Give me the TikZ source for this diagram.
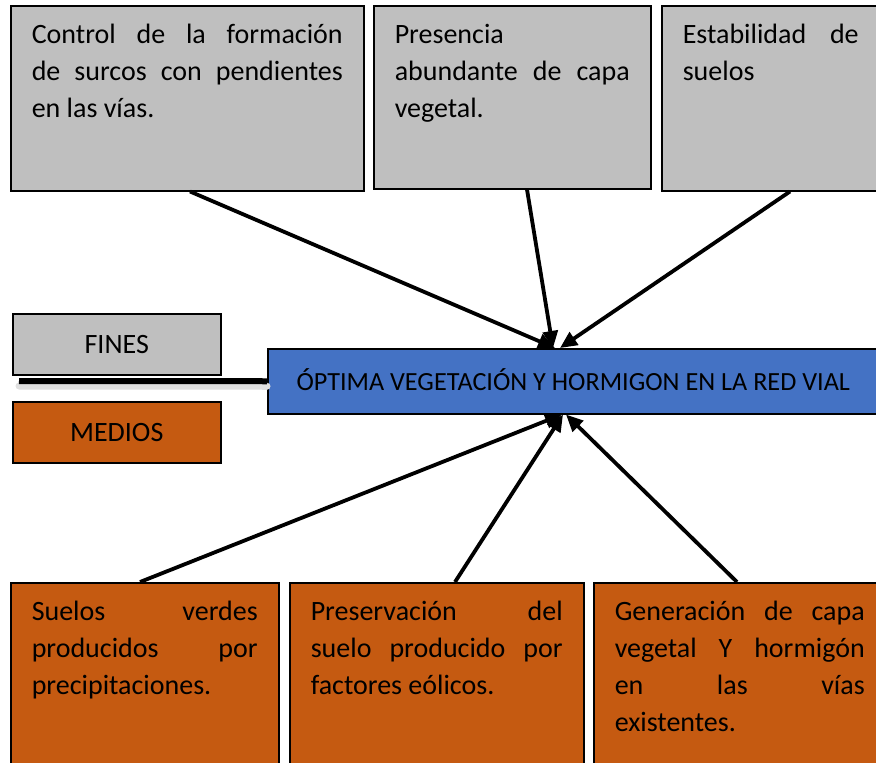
\documentclass[tikz,border=0pt]{standalone}
\usepackage{fontspec}
\setmainfont{Carlito}
\usepackage{tikz}
\usetikzlibrary{arrows.meta,positioning}

\definecolor{finGray}{HTML}{BFBFBF}
\definecolor{medOrange}{HTML}{C55A11}
\definecolor{optBlue}{HTML}{4472C4}

\begin{document}
\begin{tikzpicture}[
    x=1pt, y=-1pt,
    box/.style={rectangle, draw, line width=1.5pt, anchor=north west,
                inner xsep=21pt, inner ysep=0pt, align=justify,
                text height=38pt, font=\fontsize{28}{37}\selectfont},
    fin/.style={box, fill=finGray},
    med/.style={box, fill=medOrange},
    tag/.style={rectangle, draw, line width=1.5pt, anchor=north west,
                minimum width=208pt, minimum height=61pt,
                font=\fontsize{28}{34}\selectfont},
    arrow/.style={-{Triangle[length=17pt,width=15pt]}, line width=3.8pt}
  ]
    \useasboundingbox (0,0) rectangle (876,763);
    \clip (0,0) rectangle (876,763);

    % fines
    \node[fin, text width=311pt, text depth=147pt] (fin1) at (10,5)
      {Control de la formación\linebreak de surcos con pendientes\linebreak en las vías.};
    \node[fin, text width=235pt, text depth=145pt] (fin2) at (373,5)
      {Presencia\linebreak abundante de capa\linebreak vegetal.};
    \node[fin, text width=176pt, text depth=147pt] (fin3) at (661,5)
      {Estabilidad de\linebreak suelos};

    % centro
    \node[tag, fill=finGray] (fines) at (12,313) {FINES};
    \node[tag, fill=medOrange] (medios) at (12,401) {MEDIOS};
    \node[rectangle, draw, line width=1.5pt, fill=optBlue, anchor=north west,
          minimum width=611pt, minimum height=65pt,
          font=\fontsize{26.2}{30}\selectfont] (opt) at (267,348)
      {\raisebox{4pt}{ÓPTIMA VEGETACIÓN Y HORMIGON EN LA RED VIAL}};
    \coordinate (eje) at (19,381);
    \draw[line width=7pt, black!12, line cap=round] ([yshift=-5pt]eje) -- ([yshift=-5pt]opt.west);
    \draw[line width=6pt] (eje) -- (opt.west);

    % medios
    \node[med, text width=226pt, text depth=150pt] (med1) at (10,582)
      {Suelos verdes\linebreak producidos por\linebreak precipitaciones.};
    \node[med, text width=252pt, text depth=150pt] (med2) at (289,582)
      {Preservación del\linebreak suelo producido por\linebreak factores eólicos.};
    \node[med, text width=250pt, text depth=150pt] (med3) at (593,582)
      {Generación de capa\linebreak vegetal Y hormigón\linebreak en las vías\linebreak existentes.};

    \draw[arrow] ([xshift=180pt]fin1.south west) -- ([xshift=288pt]opt.north west);
    \draw[arrow] ([xshift=154pt]fin2.south west) -- ([xshift=286pt]opt.north west);
    \draw[arrow] ([xshift=129pt]fin3.south west) -- ([xshift=293pt]opt.north west);
    \draw[arrow] ([xshift=130pt]med1.north west) -- ([xshift=295pt]opt.south west);
    \draw[arrow] ([xshift=166pt]med2.north west) -- ([xshift=296pt]opt.south west);
    \draw[arrow] ([xshift=144pt]med3.north west) -- ([xshift=299pt]opt.south west);
  \end{tikzpicture}
\end{document}
